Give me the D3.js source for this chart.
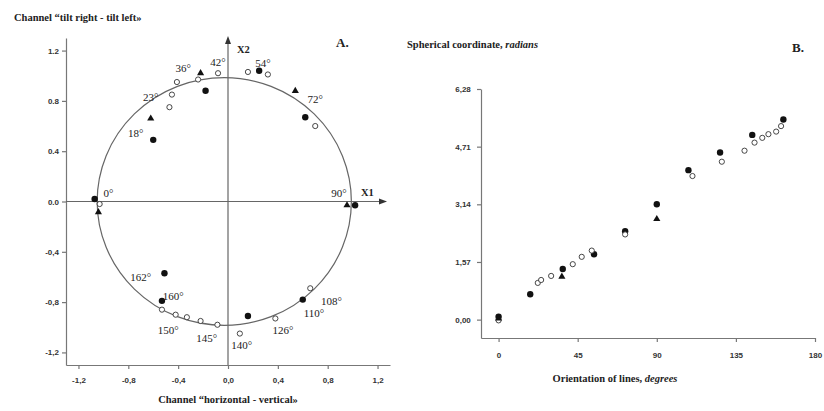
<!DOCTYPE html>
<html>
<head>
<meta charset="utf-8">
<script src="https://cdn.jsdelivr.net/npm/d3@7"></script>
<style>
	body { margin: 0; background: #fff; }
	text { fill: #222; }
	.title { font-family: 'Liberation Serif', serif; font-weight: bold; font-size: 10.5px; }
	.tick text { font-family: 'Liberation Sans', sans-serif; font-weight: bold; font-size: 8px; fill: #333; }
	.deg { font-family: 'Liberation Serif', serif; font-size: 11px; }
	.panel { font-family: 'Liberation Serif', serif; font-weight: bold; font-size: 13px; }
	.domain, .tick line { stroke: #777; stroke-width: 1.2; }
</style>
</head>
<body>
<div id="chart"></div>
<script>
// panel A: points in the plane of two channels
const filledA = [[-1.07, 0.02], [-0.60, 0.49], [-0.18, 0.88], [0.25, 1.04], [0.62, 0.67],
	[1.02, -0.03], [0.60, -0.78], [0.16, -0.91], [-0.53, -0.79], [-0.51, -0.57]]
const openA = [[-1.03, -0.02], [-0.47, 0.75], [-0.45, 0.85], [-0.41, 0.95], [-0.24, 0.97],
	[-0.08, 1.02], [0.16, 1.03], [0.32, 1.01], [0.70, 0.60], [0.66, -0.69], [0.38, -0.93],
	[0.095, -1.05], [-0.085, -0.98], [-0.22, -0.95], [-0.33, -0.92], [-0.42, -0.90], [-0.53, -0.86]]
const triangleA = [[-1.04, -0.085], [-0.62, 0.66], [-0.22, 1.02], [0.54, 0.88], [0.955, -0.03]]
const labelsA = [
	{text: '0°', x: -0.96, y: 0.066}, {text: '18°', x: -0.74, y: 0.54}, {text: '23°', x: -0.62, y: 0.83},
	{text: '36°', x: -0.36, y: 1.06}, {text: '42°', x: -0.08, y: 1.11}, {text: '54°', x: 0.28, y: 1.10},
	{text: '72°', x: 0.70, y: 0.81}, {text: '90°', x: 0.89, y: 0.063}, {text: '108°', x: 0.83, y: -0.79},
	{text: '110°', x: 0.69, y: -0.89}, {text: '126°', x: 0.44, y: -1.02}, {text: '140°', x: 0.11, y: -1.14},
	{text: '145°', x: -0.17, y: -1.09}, {text: '150°', x: -0.48, y: -1.02}, {text: '160°', x: -0.44, y: -0.75},
	{text: '162°', x: -0.70, y: -0.60}]
const ticksA = [-1.2, -0.8, -0.4, 0, 0.4, 0.8, 1.2]
const xTickLabelsA = ['-1,2', '-0,8', '-0,4', '0,0', '0,4', '0,8', '1,2']
const yTickLabelsA = ['-1,2', '-0,8', '-0,4', '0.0', '0.4', '0.8', '1.2']
const circleA = {cx: -0.03, cy: 0, rx: 1.02, ry: 0.985}

// panel B: spherical coordinate vs orientation
const filledB = [[0, 0.08], [18, 0.69], [36.5, 1.38], [54.3, 1.78], [72, 2.41], [90, 3.14],
	[108, 4.07], [126, 4.55], [144.3, 5.03], [162, 5.45]]
const openB = [[0, -0.02], [22.3, 1.0], [24.2, 1.08], [29.9, 1.19], [42.2, 1.51], [47.3, 1.71],
	[53, 1.88], [72, 2.32], [110.3, 3.91], [127, 4.30], [139.9, 4.60], [145.6, 4.82], [150, 4.95],
	[153.5, 5.05], [157.9, 5.12], [160.7, 5.27]]
const triangleB = [[0, 0.03], [36, 1.17], [90, 2.74]]
const xTicksB = [0, 45, 90, 135, 180]
const yTicksB = [0, 1.57, 3.14, 4.71, 6.28]
const yTickLabelsB = ['0,00', '1,57', '3,14', '4,71', '6,28']

const svg = d3.select('#chart').append('svg')
	.attr('width', 824)
	.attr('height', 411)

const triangle = d3.symbol().type(d3.symbolTriangle).size(22)

const drawPoints = (g, x, y, filled, open, tri) => {
	g.selectAll('.filled').data(filled)
	.enter()
		.append('circle')
			.attr('cx', d => x(d[0]))
			.attr('cy', d => y(d[1]))
			.attr('r', 3.2)
			.attr('fill', '#111')
	g.selectAll('.open').data(open)
	.enter()
		.append('circle')
			.attr('cx', d => x(d[0]))
			.attr('cy', d => y(d[1]))
			.attr('r', 2.6)
			.attr('fill', '#fff')
			.attr('stroke', '#333')
			.attr('stroke-width', 0.9)
	g.selectAll('.tri').data(tri)
	.enter()
		.append('path')
			.attr('d', triangle)
			.attr('transform', d => `translate(${x(d[0])}, ${y(d[1])})`)
			.attr('fill', '#111')
}

// ---------- A ----------
const xA = d3.scaleLinear().domain([-1.3, 1.3]).range([66, 390])
const yA = d3.scaleLinear().domain([-1.3, 1.3]).range([365, 38])
const gA = svg.append('g')

gA.append('g')
	.attr('transform', `translate(0, ${yA(-1.3)})`)
	.call(d3.axisBottom(xA).tickValues(ticksA).tickSize(4).tickSizeOuter(0)
		.tickFormat((d, i) => xTickLabelsA[i]))
	.call(g => g.selectAll('.tick text').attr('dy', '1.4em'))

gA.append('g')
	.attr('transform', `translate(${xA(-1.3)}, 0)`)
	.call(d3.axisLeft(yA).tickValues(ticksA).tickSize(4).tickSizeOuter(0)
		.tickFormat((d, i) => yTickLabelsA[i]))

// inner axes with arrows
gA.append('line')
	.attr('x1', xA(0)).attr('x2', xA(0))
	.attr('y1', yA(-1.3)).attr('y2', yA(1.3) + 2)
	.attr('stroke', '#666').attr('stroke-width', 1.2)
gA.append('line')
	.attr('x1', xA(-1.3)).attr('x2', xA(1.3) - 6)
	.attr('y1', yA(0)).attr('y2', yA(0))
	.attr('stroke', '#666').attr('stroke-width', 1.2)
gA.append('path')
	.attr('d', `M${xA(0)},${yA(1.3) - 2} l-3,8 l6,0 z`)
	.attr('fill', '#333')
gA.append('path')
	.attr('d', `M${xA(1.3) - 3},${yA(0)} l-8,-3 l0,6 z`)
	.attr('fill', '#333')

gA.append('ellipse')
	.attr('cx', xA(circleA.cx))
	.attr('cy', yA(circleA.cy))
	.attr('rx', xA(circleA.rx) - xA(0))
	.attr('ry', yA(0) - yA(circleA.ry))
	.attr('fill', 'none')
	.attr('stroke', '#666')
	.attr('stroke-width', 1.2)

drawPoints(gA, xA, yA, filledA, openA, triangleA)

gA.selectAll('.deg').data(labelsA)
.enter()
	.append('text')
		.attr('class', 'deg')
		.attr('x', d => xA(d.x))
		.attr('y', d => yA(d.y))
		.attr('dy', '0.35em')
		.attr('text-anchor', 'middle')
		.text(d => d.text)

gA.append('text').attr('class', 'title').attr('x', 237).attr('y', 53).text('X2')
gA.append('text').attr('class', 'title').attr('x', 361).attr('y', 196).text('X1')
gA.append('text').attr('class', 'panel').attr('x', 336).attr('y', 47).text('A.')
gA.append('text').attr('class', 'title').attr('x', 14).attr('y', 21)
	.text('Channel “tilt right - tilt left»')
gA.append('text').attr('class', 'title').attr('x', 228).attr('y', 403)
	.attr('text-anchor', 'middle')
	.text('Channel “horizontal - vertical»')

// ---------- B ----------
const xB = d3.scaleLinear().domain([-10, 180]).range([481, 815])
const yB = d3.scaleLinear().domain([-0.5, 6.28]).range([338, 89])
const gB = svg.append('g')

gB.append('g')
	.attr('transform', `translate(0, ${yB(-0.5)})`)
	.call(d3.axisBottom(xB).tickValues(xTicksB).tickSize(4).tickSizeOuter(0))
	.call(g => g.selectAll('.tick text').attr('dy', '1.6em'))

gB.append('g')
	.attr('transform', `translate(${xB(-10)}, 0)`)
	.call(d3.axisLeft(yB).tickValues(yTicksB).tickSize(4).tickSizeOuter(0)
		.tickFormat((d, i) => yTickLabelsB[i]))
	.call(g => g.selectAll('.tick text').attr('dx', '-0.4em'))

drawPoints(gB, xB, yB, filledB, openB, triangleB)

const titleB = gB.append('text').attr('class', 'title').attr('x', 407).attr('y', 48)
titleB.append('tspan').text('Spherical coordinate, ')
titleB.append('tspan').attr('font-style', 'italic').text('radians')

gB.append('text').attr('class', 'panel').attr('x', 792).attr('y', 52).text('B.')

const xTitleB = gB.append('text').attr('class', 'title').attr('x', 615).attr('y', 382)
	.attr('text-anchor', 'middle')
xTitleB.append('tspan').text('Orientation of lines, ')
xTitleB.append('tspan').attr('font-style', 'italic').text('degrees')
</script>
</body>
</html>
